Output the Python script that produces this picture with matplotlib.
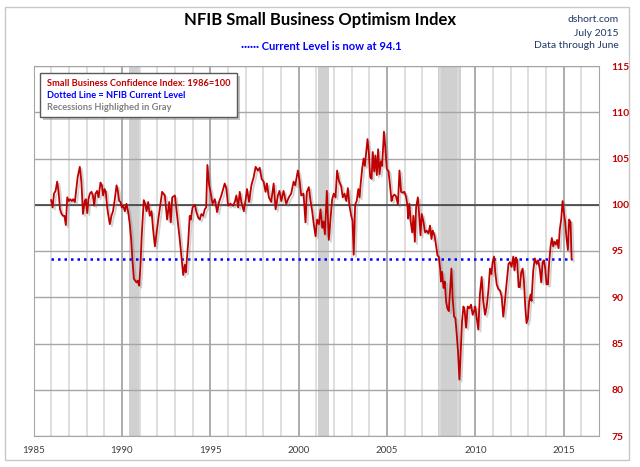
import matplotlib
matplotlib.use('Agg')
import matplotlib.pyplot as plt
import matplotlib.patheffects as pe
from matplotlib.patches import Rectangle
import numpy as np

plt.rcParams['font.family'] = ['Lato', 'DejaVu Sans']

# NFIB index (decimal year, index value)
dates = [
    1986.00, 1986.08, 1986.16, 1986.25, 1986.34, 1986.42, 1986.50, 1986.59, 1986.67, 1986.75,
    1986.83, 1986.91, 1987.00, 1987.08, 1987.17, 1987.25, 1987.34, 1987.42, 1987.50, 1987.62,
    1987.71, 1987.80, 1987.90, 1987.96, 1988.04, 1988.11, 1988.19, 1988.28, 1988.36, 1988.43,
    1988.51, 1988.60, 1988.68, 1988.79, 1988.87, 1988.94, 1989.02, 1989.09, 1989.17, 1989.24,
    1989.32, 1989.41, 1989.50, 1989.60, 1989.70, 1989.77, 1989.85, 1989.92, 1990.00, 1990.08,
    1990.17, 1990.26, 1990.36, 1990.45, 1990.53, 1990.60, 1990.68, 1990.75, 1990.83, 1990.90,
    1990.98, 1991.05, 1991.13, 1991.24, 1991.32, 1991.40, 1991.49, 1991.58, 1991.68, 1991.77,
    1991.87, 1992.06, 1992.28, 1992.43, 1992.56, 1992.68, 1992.77, 1992.85, 1993.00, 1993.13,
    1993.28, 1993.41, 1993.47, 1993.56, 1993.62, 1993.75, 1993.84, 1993.90, 1994.00, 1994.13,
    1994.22, 1994.32, 1994.41, 1994.50, 1994.60, 1994.69, 1994.77, 1994.84, 1994.94, 1995.01,
    1995.13, 1995.26, 1995.39, 1995.50, 1995.63, 1995.82, 1995.92, 1996.01, 1996.14, 1996.29,
    1996.39, 1996.48, 1996.58, 1996.67, 1996.76, 1996.90, 1997.01, 1997.08, 1997.20, 1997.33,
    1997.46, 1997.57, 1997.70, 1997.80, 1997.91, 1998.02, 1998.13, 1998.21, 1998.32, 1998.45,
    1998.59, 1998.70, 1998.83, 1998.92, 1999.02, 1999.15, 1999.30, 1999.45, 1999.58, 1999.72,
    1999.81, 1999.96, 2000.06, 2000.15, 2000.28, 2000.39, 2000.47, 2000.58, 2000.68, 2000.77,
    2000.86, 2000.96, 2001.05, 2001.15, 2001.24, 2001.34, 2001.41, 2001.49, 2001.60, 2001.71,
    2001.79, 2001.90, 2001.99, 2002.09, 2002.18, 2002.28, 2002.41, 2002.50, 2002.60, 2002.70,
    2002.79, 2002.88, 2002.98, 2003.05, 2003.12, 2003.20, 2003.29, 2003.38, 2003.45, 2003.51,
    2003.60, 2003.68, 2003.75, 2003.83, 2003.90, 2003.98, 2004.05, 2004.13, 2004.20, 2004.28,
    2004.35, 2004.43, 2004.50, 2004.58, 2004.66, 2004.73, 2004.83, 2004.90, 2004.99, 2005.09,
    2005.18, 2005.26, 2005.33, 2005.43, 2005.52, 2005.62, 2005.71, 2005.80, 2005.90, 2005.99,
    2006.09, 2006.16, 2006.20, 2006.27, 2006.35, 2006.43, 2006.50, 2006.58, 2006.65, 2006.75,
    2006.84, 2006.90, 2006.97, 2007.07, 2007.16, 2007.25, 2007.35, 2007.44, 2007.52, 2007.59,
    2007.69, 2007.78, 2007.86, 2007.93, 2008.01, 2008.06, 2008.12, 2008.20, 2008.27, 2008.35,
    2008.42, 2008.50, 2008.57, 2008.65, 2008.72, 2008.80, 2008.87, 2008.95, 2009.02, 2009.10,
    2009.17, 2009.25, 2009.33, 2009.40, 2009.48, 2009.57, 2009.66, 2009.76, 2009.85, 2009.95,
    2010.00, 2010.08, 2010.17, 2010.26, 2010.36, 2010.45, 2010.55, 2010.64, 2010.74, 2010.83,
    2010.91, 2010.98, 2011.06, 2011.13, 2011.21, 2011.30, 2011.40, 2011.49, 2011.58, 2011.66,
    2011.73, 2011.81, 2011.88, 2011.96, 2012.05, 2012.15, 2012.22, 2012.30, 2012.37, 2012.45,
    2012.52, 2012.60, 2012.68, 2012.75, 2012.83, 2012.90, 2012.98, 2013.05, 2013.13, 2013.18,
    2013.28, 2013.37, 2013.47, 2013.56, 2013.66, 2013.73, 2013.81, 2013.88, 2013.96, 2014.03,
    2014.11, 2014.18, 2014.26, 2014.33, 2014.41, 2014.48, 2014.56, 2014.63, 2014.71, 2014.78,
    2014.86, 2014.94, 2015.01, 2015.09, 2015.16, 2015.24, 2015.31, 2015.39, 2015.45,
]
index_values = [
    100.5, 99.7, 101.2, 101.5, 102.5, 101.4, 99.5, 99.0, 98.8, 98.8,
    97.8, 100.8, 100.4, 100.6, 100.4, 100.6, 100.3, 101.7, 103.0, 104.1,
    102.5, 99.0, 100.4, 100.6, 99.1, 100.6, 101.2, 101.4, 101.0, 99.9,
    101.2, 101.5, 100.8, 102.4, 102.1, 101.0, 101.7, 101.4, 99.7, 98.8,
    97.9, 98.8, 99.3, 100.6, 102.1, 101.5, 100.4, 100.3, 99.7, 99.9,
    99.3, 100.1, 99.2, 97.9, 96.2, 94.0, 92.0, 91.8, 91.6, 91.8,
    91.25, 93.3, 96.9, 100.5, 100.1, 99.3, 100.3, 98.8, 99.3, 97.3,
    95.5, 98.4, 101.4, 101.0, 98.4, 100.3, 98.1, 100.8, 101.0, 98.8,
    96.2, 93.6, 92.4, 93.5, 92.7, 95.8, 98.8, 98.4, 99.7, 100.0,
    99.2, 98.6, 98.4, 99.0, 98.8, 99.5, 99.7, 104.3, 102.1, 101.5,
    100.1, 100.6, 99.2, 100.3, 101.0, 102.3, 101.7, 99.9, 100.1, 99.9,
    100.3, 101.0, 99.7, 101.4, 100.3, 99.3, 100.6, 101.7, 100.3, 102.1,
    103.0, 104.1, 103.7, 104.0, 102.8, 102.5, 101.4, 102.3, 100.8, 100.3,
    102.3, 99.5, 101.0, 101.5, 100.4, 101.5, 100.1, 100.8, 101.2, 102.5,
    102.1, 103.7, 102.6, 101.0, 101.2, 98.1, 101.4, 101.9, 100.4, 99.3,
    97.9, 96.6, 98.4, 97.9, 99.5, 97.5, 98.2, 96.8, 101.5, 96.2,
    98.1, 100.6, 101.2, 100.8, 103.7, 102.6, 102.0, 100.8, 101.2, 100.4,
    101.8, 99.9, 98.8, 98.3, 94.6, 100.0, 100.4, 101.7, 100.8, 102.2,
    103.9, 105.0, 104.2, 105.8, 107.1, 105.5, 103.0, 102.8, 105.7, 103.6,
    105.3, 103.2, 106.0, 103.3, 104.7, 104.2, 107.9, 106.4, 103.9, 103.6,
    102.0, 100.4, 100.9, 101.1, 100.9, 100.0, 103.7, 101.4, 101.3, 101.4,
    100.8, 99.9, 98.5, 100.1, 98.1, 97.0, 98.8, 96.0, 99.7, 100.8,
    98.5, 96.7, 99.0, 98.1, 97.0, 97.2, 96.9, 97.75, 96.3, 97.2,
    96.7, 95.6, 94.5, 94.4, 93.1, 91.7, 92.75, 91.0, 91.7, 89.5,
    88.8, 88.5, 90.6, 93.1, 89.9, 87.9, 87.75, 86.0, 84.2, 81.1,
    83.8, 87.4, 89.0, 88.5, 86.7, 89.0, 88.8, 89.2, 88.1, 88.6,
    89.0, 87.75, 86.5, 90.3, 92.2, 89.6, 88.1, 88.9, 90.7, 93.1,
    92.5, 93.8, 94.4, 92.7, 91.4, 90.9, 90.7, 90.1, 87.9, 89.2,
    90.7, 92.2, 93.6, 93.8, 93.3, 94.4, 92.9, 94.3, 94.0, 91.1,
    91.1, 92.7, 93.1, 91.8, 88.9, 87.2, 87.75, 89.6, 90.3, 89.6,
    92.9, 94.2, 93.6, 94.0, 92.9, 91.6, 93.8, 94.0, 93.1, 91.4,
    91.4, 93.8, 95.5, 96.4, 95.5, 96.0, 95.7, 96.2, 95.3, 97.3,
    98.4, 100.4, 99.2, 98.1, 96.4, 95.1, 98.4, 98.1, 94.1,
]

current_level = 94.1
current_start = 1986.0
recessions = [(1990.42, 1991.03), (2001.10, 2001.70), (2007.87, 2009.20)]
year_ticks = [1985, 1990, 1995, 2000, 2005, 2010, 2015]
value_ticks = [75, 80, 85, 90, 95, 100, 105, 110, 115]

fig = plt.figure(figsize=(6.4, 4.67), dpi=100)
ax = fig.add_axes([33.5 / 640, 1 - 436 / 467, (599 - 33.5) / 640, (436 - 66) / 467])

for start, end in recessions:
    ax.axvspan(start, end, color='#d0d0d0', zorder=0, lw=0)

ax.set_xlim(1985, 2017)
ax.set_ylim(75, 115)
ax.set_xticks(year_ticks)
ax.set_xticks(np.arange(1986, 2017), minor=True)
ax.set_yticks(value_ticks)
ax.grid(which='minor', axis='x', color='#dcdcdc', lw=1.3, zorder=1)
ax.grid(which='major', axis='x', color='#a6a6a6', lw=1.3, zorder=1)
ax.grid(which='major', axis='y', color='#a6a6a6', lw=1.0, zorder=1)
ax.set_axisbelow(True)
ax.axhline(100, color='#404040', lw=1.2, zorder=2)

ax.plot([current_start, dates[-1]], [current_level, current_level],
        color='#0000ff', lw=1.8, ls=(0, (1, 1.6)), zorder=3)
ax.plot(dates, index_values, color='#c00000', lw=1.3, zorder=4,
        path_effects=[pe.SimpleLineShadow(offset=(1.5, -1.5), shadow_color='gray', alpha=0.35),
                      pe.Normal()])

ax.yaxis.tick_right()
ax.tick_params(axis='both', which='both', length=0)
ax.tick_params(axis='x', pad=7, labelsize=7, labelcolor='#404040')
ax.tick_params(axis='y', pad=9, labelsize=7.5, labelcolor='#c00000')
for lab in ax.get_yticklabels():
    lab.set_fontweight('bold')
for sp in ax.spines.values():
    sp.set_color('#a6a6a6')

# outer frame
fig.patches.append(Rectangle((5 / 640, 1 - 460 / 467), 624 / 640, 453 / 467,
                             transform=fig.transFigure, fill=False,
                             edgecolor='#c8c8c8', lw=1))

fig.text(0.5, 1 - 20 / 467, 'NFIB Small Business Optimism Index', ha='center', va='center',
         fontsize=12, fontweight='bold', color='black')
fig.text(0.502, 1 - 47 / 467, '\u00b7\u00b7\u00b7\u00b7\u00b7\u00b7 Current Level is now at 94.1',
         ha='center', va='center', fontsize=8, fontweight='bold', color='#0000ff')
fig.text(619 / 640, 1 - 20 / 467, 'dshort.com', ha='right', va='center', fontsize=7.5, color='#1f3864')
fig.text(619 / 640, 1 - 33 / 467, 'July 2015', ha='right', va='center', fontsize=7.5, color='#1f3864')
fig.text(619 / 640, 1 - 45 / 467, 'Data through June', ha='right', va='center', fontsize=7.5, color='#1f3864')

# note box with shadow
bx, by, bw, bh = 40 / 640, 1 - 117 / 467, 197 / 640, 44 / 467
fig.patches.append(Rectangle((bx + 3 / 640, by - 3 / 467), bw, bh, transform=fig.transFigure,
                             facecolor='#9a9a9a', edgecolor='none', alpha=0.6, zorder=5))
fig.patches.append(Rectangle((bx, by), bw, bh, transform=fig.transFigure,
                             facecolor='white', edgecolor='#595959', lw=1, zorder=6))
fig.text(47 / 640, 1 - 83 / 467, 'Small Business Confidence Index: 1986=100', fontsize=6.7,
         fontweight='bold', color='#c00000', va='center', zorder=7)
fig.text(47 / 640, 1 - 95 / 467, 'Dotted Line = NFIB Current Level', fontsize=6.7,
         fontweight='bold', color='#0000ff', va='center', zorder=7)
fig.text(47 / 640, 1 - 107 / 467, 'Recessions Highlighed in Gray', fontsize=6.7,
         fontweight='bold', color='#808080', va='center', zorder=7)

fig.savefig('out.png', dpi=100)
